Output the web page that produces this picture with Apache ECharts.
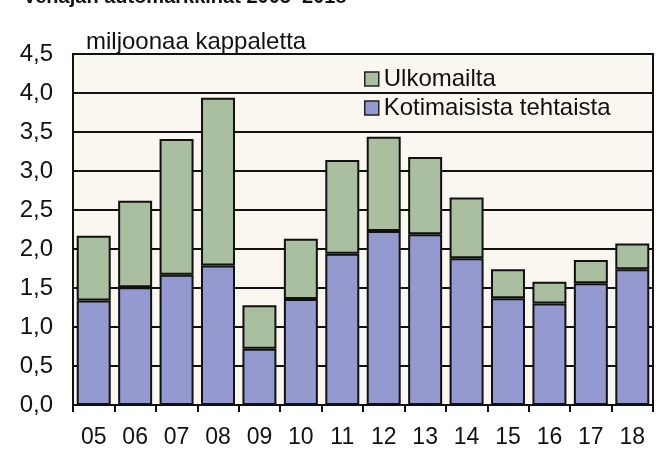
<!DOCTYPE html>
<html>
<head>
<meta charset="utf-8">
<script src="https://cdn.jsdelivr.net/npm/echarts@6/dist/echarts.min.js"></script>
<style>
  html, body { margin: 0; padding: 0; background: #fff; }
  #chart { width: 659px; height: 450px; }
</style>
</head>
<body>
<div id="chart"></div>
<script>
// vuodet (2005-2018)
var years = ['05', '06', '07', '08', '09', '10', '11', '12', '13', '14', '15', '16', '17', '18'];
// milj. kpl
var domestic = [1.34, 1.51, 1.67, 1.79, 0.72, 1.36, 1.94, 2.23, 2.19, 1.88, 1.37, 1.30, 1.56, 1.74];
var imported = [0.83, 1.11, 1.74, 2.15, 0.56, 0.77, 1.20, 1.21, 0.99, 0.78, 0.37, 0.28, 0.30, 0.33];
var yTicks = [0, 0.5, 1, 1.5, 2, 2.5, 3, 3.5, 4, 4.5];

var fontFam = '"Liberation Sans", Arial, sans-serif';

var dom = document.getElementById('chart');
var myChart = echarts.init(dom);
var option = {
    animation: false,
    title: [
        {
            text: 'Venäjän automarkkinat 2005–2018',
            left: 18,
            top: -18,
            textStyle: { fontFamily: fontFam, fontSize: 20, fontWeight: 'bold', color: '#111' }
        },
        {
            text: 'miljoonaa kappaletta',
            left: 81,
            top: 25,
            textStyle: { fontFamily: fontFam, fontSize: 24, fontWeight: 'normal', color: '#111' }
        }
    ],
    legend: {
        data: ['Ulkomailta', 'Kotimaisista tehtaista'],
        orient: 'vertical',
        left: 359,
        top: 62,
        itemWidth: 14,
        itemHeight: 14,
        itemGap: 5,
        icon: 'rect',
        itemStyle: { borderColor: '#222', borderWidth: 1.5 },
        textStyle: { fontFamily: fontFam, fontSize: 24, color: '#111' }
    },
    grid: {
        left: 73,
        right: 6,
        top: 54,
        bottom: 45,
        show: true,
        backgroundColor: '#FAF6F0',
        borderColor: '#111',
        borderWidth: 2
    },
    xAxis: {
        type: 'category',
        data: years,
        axisLine: { lineStyle: { color: '#111', width: 2 } },
        axisTick: { show: true, length: 7, lineStyle: { color: '#111', width: 2 } },
        axisLabel: { fontFamily: fontFam, fontSize: 23, color: '#111', margin: 21 }
    },
    yAxis: {
        type: 'value',
        min: yTicks[0],
        max: yTicks[yTicks.length - 1],
        interval: 0.5,
        axisLine: { show: true, lineStyle: { color: '#111', width: 2 } },
        axisTick: { show: false },
        splitLine: { lineStyle: { color: '#111', width: 2 } },
        axisLabel: {
            fontFamily: fontFam,
            fontSize: 24,
            color: '#111',
            margin: 20,
            formatter: function (v) { return v.toFixed(1).replace('.', ','); }
        }
    },
    series: [
        {
            name: 'Kotimaisista tehtaista',
            type: 'bar',
            stack: 'total',
            barCategoryGap: '18%',
            data: domestic,
            itemStyle: { color: '#9499CF', borderColor: '#111', borderWidth: 2 }
        },
        {
            name: 'Ulkomailta',
            type: 'bar',
            stack: 'total',
            barCategoryGap: '18%',
            data: imported,
            itemStyle: { color: '#AABF9F', borderColor: '#111', borderWidth: 2 }
        }
    ]
};
myChart.setOption(option, true);
</script>
</body>
</html>
